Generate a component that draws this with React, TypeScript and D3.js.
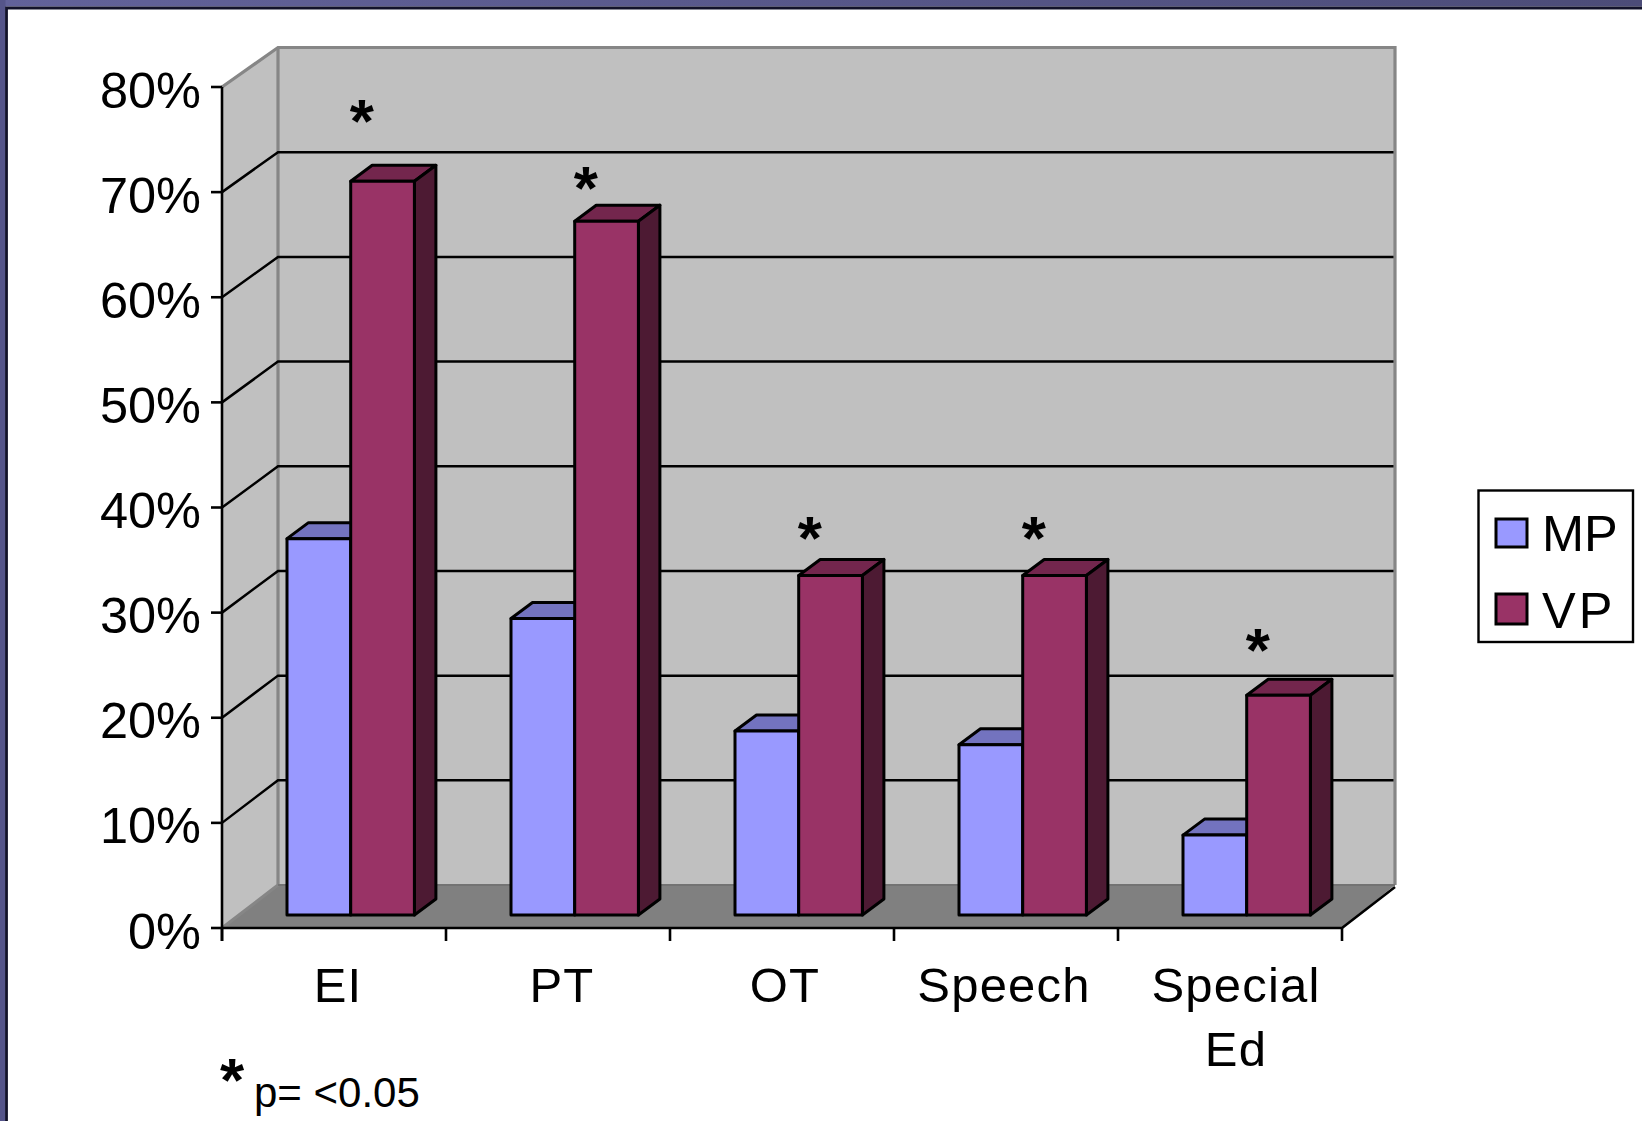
import React from "react";
import * as d3 from "d3";

const categories = ["EI", "PT", "OT", "Speech", "Special Ed"];
const categoryLines = [["EI"], ["PT"], ["OT"], ["Speech"], ["Special", "Ed"]];
const mpValues = [35.8, 28.2, 17.5, 16.2, 7.6];
const vpValues = [69.8, 66, 32.3, 32.3, 20.9];
const starValues = [76.3, 69.9, 36.6, 36.6, 26];
const yTicks = [0, 10, 20, 30, 40, 50, 60, 70, 80];

const W = 1642, H = 1121;
const FONT = "'Liberation Sans', Arial, sans-serif";
const labelNudge = [6, 6, 5, 0, 8];
const frontY = d3.scaleLinear().domain([0, 80]).range([928, 87]);
const backY = d3.scaleLinear().domain([0, 80]).range([885, 47.5]);
const barY = d3.scaleLinear().domain([0, 80]).range([915, 74]);
const xBand = d3.scaleBand<string>().domain(categories).range([222, 1342]);
const pad = 65, barW = 63.7, bdx = 21.5, bdy = 16;
const backL = 278, backR = 1395, frontL = 222, frontR = 1342;
const pts = (p: number[][]) => d3.line()(p as [number, number][]) + "Z";

function Bar({ x, v, face, top, side, showSide }: any) {
  const y = barY(v), b = barY(0), w = barW;
  return (
    <g stroke="#000" strokeWidth={3} strokeLinejoin="round">
      <path d={pts([[x, y], [x + bdx, y - bdy], [x + w + bdx, y - bdy], [x + w, y]])} fill={top} />
      {showSide && <path d={pts([[x + w, y], [x + w + bdx, y - bdy], [x + w + bdx, b - bdy], [x + w, b]])} fill={side} />}
      <rect x={x} y={y} width={w} height={b - y} fill={face} />
    </g>
  );
}

export default function App() {
  const backTop = backY(80), back0 = backY(0);
  return (
    <svg width={W} height={H} viewBox={`0 0 ${W} ${H}`} style={{ position: "absolute", left: 0, top: 0, display: "block", background: "#fff" }} fontFamily={FONT}>
      <defs>
        <linearGradient id="band" x1="0" x2="1" y1="0" y2="0">
          <stop offset="0" stopColor="#62629a" />
          <stop offset="1" stopColor="#4c4c78" />
        </linearGradient>
      </defs>
      <rect x={0} y={0} width={W} height={6.5} fill="url(#band)" />
      <rect x={0} y={0} width={5.5} height={H} fill="#55558a" />
      <path d={`M6.5 ${H}V8H${W}`} fill="none" stroke="#12122a" strokeWidth={2.8} />

      {/* walls */}
      <path d={pts([[frontL, frontY(80)], [backL, backTop], [backL, back0], [frontL, frontY(0)]])} fill="#c0c0c0" />
      <rect x={backL} y={backTop} width={backR - backL} height={back0 - backTop} fill="#c0c0c0" />
      <path d={pts([[frontL, frontY(0)], [backL, back0], [backR, back0], [frontR, frontY(0)]])} fill="#808080" />
      <path d={`M${frontL} ${frontY(80)}L${backL} ${backTop}H${backR}V${back0}`} fill="none" stroke="#868686" strokeWidth={3.2} />
      <path d={`M${backL} ${backTop}V${back0}L${frontL} ${frontY(0)}`} fill="none" stroke="#868686" strokeWidth={3.2} />
      <path d={`M${backL} ${back0}H${backR}`} fill="none" stroke="#737373" strokeWidth={2} />

      {/* gridlines */}
      {yTicks.filter((t) => t > 0 && t < 80).map((t) => (
        <path key={t} d={`M${frontL} ${frontY(t)}L${backL} ${backY(t)}H${backR - 1.5}`} fill="none" stroke="#000" strokeWidth={2.5} />
      ))}

      {/* bars */}
      {categories.map((c, i) => {
        const x0 = xBand(c)! + pad;
        return (
          <g key={c}>
            <Bar x={x0} v={mpValues[i]} face="#9999ff" top="#7373bf" side="#4d4d80" showSide={false} />
            <Bar x={x0 + barW} v={vpValues[i]} face="#993366" top="#73264d" side="#4d1a33" showSide />
            <text x={x0 + barW + 11} y={barY(starValues[i]) + 29} textAnchor="middle" fontSize={62} fontWeight={700} fill="#000">*</text>
          </g>
        );
      })}

      {/* axes */}
      <path d={`M${frontL} ${frontY(80)}V${frontY(0) + 13}`} fill="none" stroke="#000" strokeWidth={2.6} />
      <path d={`M${frontL} ${frontY(0)}H${frontR}L${backR} ${back0 + 2}`} fill="none" stroke="#000" strokeWidth={2.6} />
      {yTicks.map((t) => (
        <g key={t}>
          <line x1={frontL - 11} x2={frontL} y1={frontY(t)} y2={frontY(t)} stroke="#000" strokeWidth={2.6} />
          <text x={201} y={frontY(t) + 20.5} textAnchor="end" fontSize={50.5} fill="#000">{t}%</text>
        </g>
      ))}
      {[...categories.map((c) => xBand(c)!), frontR].map((x) => (
        <line key={x} x1={x} x2={x} y1={frontY(0)} y2={frontY(0) + 13} stroke="#000" strokeWidth={2.6} />
      ))}
      {categories.map((c, i) => (
        <text key={c} textAnchor="middle" fontSize={49} fill="#000" letterSpacing={1.2}>
          {categoryLines[i].map((l, k) => (
            <tspan key={l} x={xBand(c)! + xBand.bandwidth() / 2 - 2 + labelNudge[i]} y={1002 + k * 64}>{l}</tspan>
          ))}
        </text>
      ))}

      {/* footnote */}
      <text x={232} y={1101} textAnchor="middle" fontSize={62} fontWeight={700} fill="#000">*</text>
      <text x={254} y={1107} fontSize={42} fill="#000">p= &lt;0.05</text>

      {/* legend */}
      <rect x={1478.5} y={490.5} width={154.5} height={151.5} fill="#fff" stroke="#000" strokeWidth={2.4} />
      <rect x={1496} y={519} width={31} height={28} fill="#9999ff" stroke="#000" strokeWidth={3} />
      <rect x={1496} y={594} width={31} height={30} fill="#993366" stroke="#000" strokeWidth={3} />
      <text x={1542} y={551} fontSize={50.5} fill="#000">MP</text>
      <text x={1542} y={628} fontSize={50.5} fill="#000" letterSpacing={3}>VP</text>
    </svg>
  );
}
